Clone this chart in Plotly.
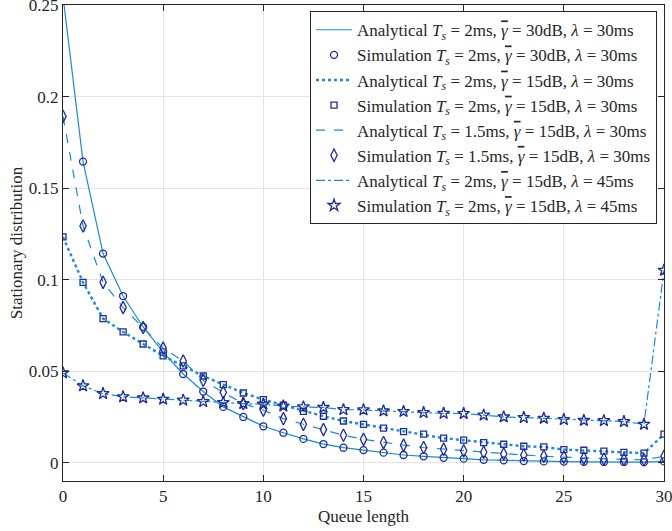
import plotly.graph_objects as go

queue = list(range(31))

p_ts2_30db = [0.255, 0.1646, 0.1143, 0.0911, 0.0742, 0.0605, 0.0485, 0.0389, 0.0305, 0.025,
              0.0199, 0.0164, 0.013, 0.0102, 0.0082, 0.0069, 0.0055, 0.0042, 0.0035, 0.0027,
              0.0022, 0.0016, 0.0013, 0.0009, 0.0007, 0.0006, 0.0005, 0.0004, 0.0004, 0.0003, 0.0007]
p_ts2_15db = [0.1234, 0.0986, 0.0788, 0.0715, 0.0649, 0.0584, 0.0529, 0.0474, 0.0427, 0.0381,
              0.0345, 0.0314, 0.0281, 0.0254, 0.0228, 0.021, 0.0189, 0.017, 0.0156, 0.0134,
              0.0123, 0.011, 0.0101, 0.009, 0.0086, 0.0072, 0.0068, 0.0063, 0.0057, 0.0052, 0.0156]
p_ts15_15db = [0.1893, 0.1294, 0.0986, 0.0848, 0.0739, 0.0626, 0.0556, 0.0451, 0.0384, 0.0323,
               0.0287, 0.0241, 0.021, 0.0181, 0.015, 0.0128, 0.011, 0.0096, 0.0083, 0.0074,
               0.0065, 0.0057, 0.0048, 0.0042, 0.0035, 0.0031, 0.0024, 0.002, 0.0018, 0.0016, 0.0035]
p_lambda45 = [0.0491, 0.042, 0.0378, 0.036, 0.0354, 0.0347, 0.0342, 0.0334, 0.0329, 0.0323,
              0.032, 0.031, 0.0305, 0.0302, 0.029, 0.0289, 0.0283, 0.028, 0.0274, 0.027,
              0.0269, 0.026, 0.025, 0.0247, 0.0243, 0.0236, 0.0231, 0.023, 0.0225, 0.021, 0.1052]

GB = '<i><span style="text-decoration:overline">γ</span></i>'
TS = "<i>T<sub>s</sub></i>"
LM = "<i>λ</i>"
labels = [
    f"Analytical {TS} = 2ms, {GB} = 30dB, {LM} = 30ms",
    f"Simulation {TS} = 2ms, {GB} = 30dB, {LM} = 30ms",
    f"Analytical {TS} = 2ms, {GB} = 15dB, {LM} = 30ms",
    f"Simulation {TS} = 2ms, {GB} = 15dB, {LM} = 30ms",
    f"Analytical {TS} = 1.5ms, {GB} = 15dB, {LM} = 30ms",
    f"Simulation {TS} = 1.5ms, {GB} = 15dB, {LM} = 30ms",
    f"Analytical {TS} = 2ms, {GB} = 15dB, {LM} = 45ms",
    f"Simulation {TS} = 2ms, {GB} = 15dB, {LM} = 45ms",
]

line_color = "#1b8bd4"
marker_color = "#1f2d98"
FONT = "Liberation Serif"

series = [p_ts2_30db, p_ts2_15db, p_ts15_15db, p_lambda45]
dashes = ["solid", "dot", "dash", "dashdot"]
widths = [1.2, 2.4, 1.2, 1.2]
symbols = ["circle-open", "square-open", "diamond-tall-open", "star-open"]
msizes = [7, 6, 9, 9]

fig = go.Figure()
for i, ys in enumerate(series):
    fig.add_trace(go.Scatter(
        x=queue, y=ys, mode="lines", name=labels[2 * i],
        line=dict(color=line_color, width=widths[i], dash=dashes[i]),
    ))
    fig.add_trace(go.Scatter(
        x=queue, y=ys, mode="markers", name=labels[2 * i + 1],
        marker=dict(symbol=symbols[i], size=msizes[i], color=marker_color,
                    line=dict(width=1.3, color=marker_color)),
    ))

axis_common = dict(
    showline=True, linecolor="#262626", linewidth=1, mirror="ticks",
    ticks="inside", ticklen=6, tickcolor="#262626",
    showgrid=True, gridcolor="#e3e3e3", gridwidth=1,
    zeroline=False, tickfont=dict(family=FONT, size=17, color="#262626"),
    ticklabeloverflow="allow", automargin=False,
)

fig.update_layout(
    width=672, height=531,
    margin=dict(l=63, r=8, t=5, b=50, autoexpand=False),
    plot_bgcolor="white", paper_bgcolor="white",
    font=dict(family=FONT, size=17, color="#262626"),
    xaxis=dict(range=[0, 30], tickvals=[0, 5, 10, 15, 20, 25, 30],
               title=dict(text="Queue length", font=dict(family=FONT, size=17), standoff=4),
               **axis_common),
    yaxis=dict(range=[-0.01, 0.2502], tickvals=[0, 0.05, 0.1, 0.15, 0.2, 0.25],
               ticktext=["0", "0.05", "0.1", "0.15", "0.2", "0.25"],
               title=dict(text="Stationary distribution", font=dict(family=FONT, size=17), standoff=1),
               **axis_common),
    legend=dict(x=0.411, y=0.987, xanchor="left", yanchor="top",
                bgcolor="white", bordercolor="#262626", borderwidth=1,
                font=dict(family=FONT, size=17, color="#262626"),
                tracegroupgap=0, itemwidth=36),
    showlegend=True,
)

fig.write_html("out.html", config={"displayModeBar": False},
               post_script="document.body.style.margin='0';")
